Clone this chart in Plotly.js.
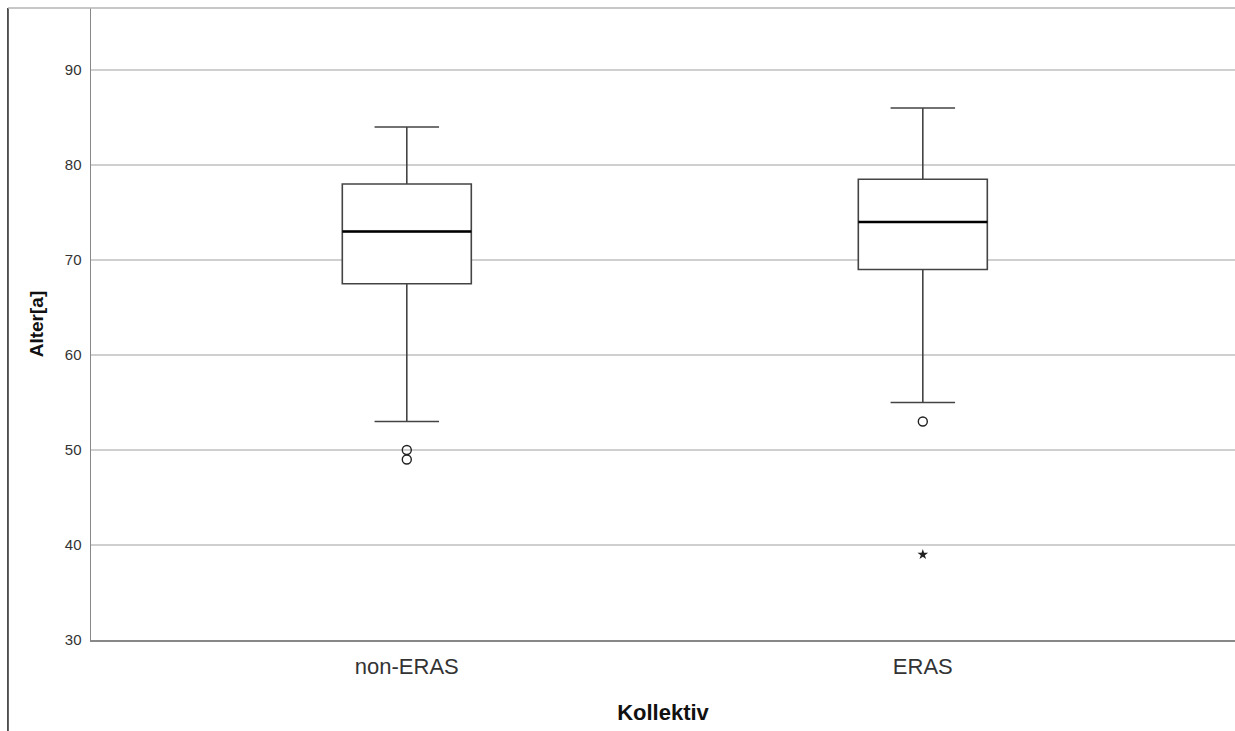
<!DOCTYPE html>
<html><head><meta charset="utf-8">
<script src="https://cdn.plot.ly/plotly-3.0.1.min.js"></script>
<style>body{margin:0;background:#fff}#c{width:1235px;height:731px}</style>
</head><body><div id="c"></div>
<script>
const categories = ["non-ERAS", "ERAS"];
const lowerWhisker = [53, 55];
const q1 = [67.5, 69];
const median = [73, 74];
const q3 = [78, 78.5];
const upperWhisker = [84, 86];
const outliersCircle = [[50, 49], [53]];
const outliersExtreme = [[], [39]];
const yTicks = [30, 40, 50, 60, 70, 80, 90];

const boxW = 0.25;
const traces = [];
categories.forEach((c, i) => {
  traces.push({
    type: 'box', x: [i], q1: [q1[i]], median: [median[i]], q3: [q3[i]],
    lowerfence: [lowerWhisker[i]], upperfence: [upperWhisker[i]],
    width: boxW, whiskerwidth: 0.5, boxpoints: false,
    fillcolor: '#ffffff', line: {color: '#444444', width: 1.6},
    hoverinfo: 'skip', showlegend: false
  });
  traces.push({
    type: 'scatter', mode: 'lines', x: [i - boxW / 2, i + boxW / 2], y: [median[i], median[i]],
    line: {color: '#000000', width: 2.6}, hoverinfo: 'skip', showlegend: false
  });
  if (outliersCircle[i].length) traces.push({
    type: 'scatter', mode: 'markers', x: outliersCircle[i].map(() => i), y: outliersCircle[i],
    marker: {symbol: 'circle-open', size: 9, color: '#222', line: {width: 1.4, color: '#222'}},
    hoverinfo: 'skip', showlegend: false
  });
  if (outliersExtreme[i].length) traces.push({
    type: 'scatter', mode: 'markers', x: outliersExtreme[i].map(() => i), y: outliersExtreme[i],
    marker: {symbol: 'star', size: 8, color: '#222'},
    hoverinfo: 'skip', showlegend: false
  });
});

const layout = {
  width: 1235, height: 731,
  margin: {l: 91, r: 0, t: 8, b: 91},
  paper_bgcolor: '#ffffff', plot_bgcolor: '#ffffff',
  font: {family: 'Liberation Sans, Arial, sans-serif', color: '#222'},
  xaxis: {
    range: [-0.612, 1.605], tickvals: categories.map((c, i) => i), ticktext: categories,
    showgrid: false, zeroline: false, showline: true, linecolor: '#888', linewidth: 1.5,
    ticks: '', ticklabelstandoff: 6, tickfont: {size: 22, color: '#333'},
    title: {text: '<b>Kollektiv</b>', font: {size: 22, color: '#111'}, standoff: 26}
  },
  yaxis: {
    range: [30, 96.53], tickvals: yTicks, ticktext: yTicks.map(String),
    showgrid: true, gridcolor: '#cfcfcf', gridwidth: 2, zeroline: false,
    showline: true, linecolor: '#888', linewidth: 1.5, ticks: '',
    ticklabelstandoff: 5, tickfont: {size: 15, color: '#333'},
    title: {text: '<b>Alter[a]</b>', font: {size: 19, color: '#111'}, standoff: 16}
  },
  shapes: [
    {type: 'line', xref: 'paper', yref: 'paper', x0: -0.0726, x1: -0.0726, y0: -0.2, y1: 1,
     line: {color: '#222', width: 1.5}},
    {type: 'line', xref: 'paper', yref: 'paper', x0: -0.0726, x1: 1, y0: 1, y1: 1,
     line: {color: '#b5b5b5', width: 1.5}}
  ]
};
Plotly.newPlot('c', traces, layout, {displayModeBar: false, staticPlot: true});
</script></body></html>
